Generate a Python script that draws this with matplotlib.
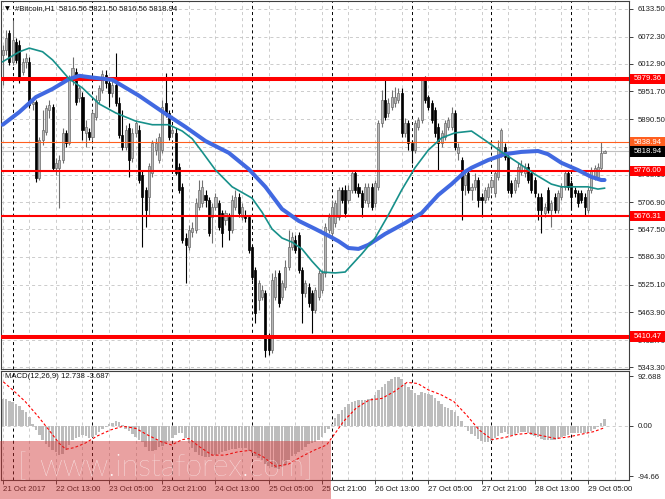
import matplotlib
matplotlib.use("Agg")
import matplotlib.pyplot as plt
from matplotlib.patches import Rectangle

plt.rcParams['lines.scale_dashes'] = False
FONT = ['Liberation Sans', 'DejaVu Sans']
plt.rcParams['font.family'] = FONT
FS = 5.6

# ---------------- data (H1 candles, Bitcoin) ----------------
opens = [6032, 6043, 6081, 6017, 6061, 6054, 5995, 6017, 6017, 5924,
         5928, 5761, 5844, 5862, 5911, 5917, 5783, 5783, 5800, 5860,
         5838, 5977, 5995, 5937, 5939, 5860, 5862, 5851, 5895, 5933,
         5955, 5988, 5970, 5948, 5966, 5926, 5855, 5829, 5871, 5805,
         5860, 5867, 5767, 5734, 5719, 5772, 5822, 5800, 5822, 5926,
         5904, 5860, 5860, 5785, 5741, 5628, 5608, 5641, 5646, 5697,
         5705, 5723, 5712, 5674, 5697, 5705, 5683, 5668, 5674, 5646,
         5697, 5719, 5674, 5679, 5674, 5608, 5558, 5491, 5498, 5507,
         5410, 5381, 5498, 5551, 5498, 5520, 5564, 5608, 5624, 5635,
         5558, 5507, 5520, 5507, 5469, 5498, 5513, 5551, 5646, 5639,
         5661, 5674, 5734, 5734, 5712, 5734, 5772, 5741, 5727, 5712,
         5705, 5741, 5705, 5741, 5882, 5933, 5904, 5917, 5926, 5933,
         5948, 5860, 5882, 5838, 5822, 5873, 5889, 5977, 5939, 5926,
         5911, 5873, 5838, 5851, 5873, 5873, 5904, 5816, 5800, 5745,
         5772, 5734, 5741, 5756, 5719, 5712, 5719, 5741, 5727, 5763,
         5816, 5829, 5807, 5750, 5734, 5750, 5774, 5772, 5785, 5772,
         5756, 5719, 5719, 5683, 5734, 5690, 5719, 5690, 5719, 5741,
         5772, 5750, 5734, 5727, 5727, 5719, 5690, 5734, 5763, 5763,
         5783, 5816.56]
highs = [6054, 6087, 6087, 6109, 6070, 6065, 6025, 6036, 6028, 5937,
         5933, 5851, 5911, 5922, 5933, 5924, 5805, 5811, 5871, 5867,
         5988, 6028, 6003, 5966, 5950, 5889, 5871, 5911, 5944, 5966,
         5999, 5999, 5977, 5977, 6036, 5939, 5911, 5878, 5882, 5871,
         5889, 5878, 5778, 5741, 5794, 5844, 5849, 5860, 5933, 5992,
         5911, 5878, 5871, 5794, 5750, 5639, 5657, 5663, 5716, 5756,
         5756, 5734, 5719, 5705, 5727, 5712, 5690, 5690, 5683, 5723,
         5734, 5727, 5705, 5690, 5679, 5613, 5564, 5535, 5524, 5513,
         5418, 5551, 5558, 5558, 5535, 5580, 5646, 5641, 5635, 5641,
         5564, 5535, 5529, 5513, 5520, 5558, 5558, 5661, 5683, 5712,
         5712, 5741, 5741, 5745, 5745, 5778, 5778, 5750, 5734, 5750,
         5750, 5750, 5756, 5889, 5955, 5977, 5937, 5955, 5961, 5959,
         5959, 5893, 5889, 5844, 5889, 5895, 5983, 5985, 5944, 5933,
         5917, 5882, 5867, 5889, 5895, 5917, 5911, 5838, 5807, 5778,
         5778, 5750, 5772, 5763, 5727, 5741, 5750, 5763, 5778, 5844,
         5871, 5838, 5816, 5756, 5763, 5794, 5800, 5794, 5794, 5778,
         5763, 5727, 5727, 5705, 5741, 5712, 5727, 5734, 5750, 5778,
         5778, 5756, 5741, 5734, 5734, 5727, 5741, 5785, 5789, 5794,
         5838.94, 5821.50]
lows = [5966, 6032, 6010, 6010, 6014, 5970, 5988, 6003, 5915, 5911,
        5752, 5756, 5833, 5855, 5893, 5778, 5767, 5694, 5794, 5829,
        5833, 5966, 5922, 5928, 5844, 5829, 5844, 5844, 5889, 5926,
        5948, 5959, 5917, 5939, 5920, 5849, 5822, 5822, 5763, 5796,
        5851, 5750, 5608, 5653, 5679, 5763, 5811, 5794, 5816, 5895,
        5844, 5851, 5767, 5727, 5617, 5529, 5602, 5630, 5639, 5690,
        5697, 5697, 5633, 5617, 5690, 5646, 5608, 5657, 5624, 5639,
        5690, 5674, 5668, 5663, 5595, 5535, 5441, 5469, 5491, 5366,
        5370, 5374, 5491, 5476, 5491, 5513, 5558, 5602, 5595, 5551,
        5441, 5498, 5476, 5418, 5463, 5491, 5507, 5542, 5639, 5630,
        5653, 5668, 5705, 5674, 5705, 5727, 5727, 5719, 5674, 5705,
        5697, 5690, 5697, 5734, 5873, 5889, 5895, 5911, 5917, 5926,
        5851, 5851, 5822, 5794, 5816, 5867, 5882, 5926, 5911, 5882,
        5851, 5778, 5829, 5844, 5867, 5867, 5822, 5800, 5668, 5723,
        5727, 5712, 5734, 5697, 5674, 5705, 5712, 5727, 5719, 5756,
        5807, 5800, 5727, 5719, 5727, 5741, 5767, 5763, 5750, 5727,
        5719, 5668, 5639, 5674, 5683, 5653, 5683, 5683, 5712, 5734,
        5734, 5690, 5719, 5697, 5705, 5679, 5683, 5727, 5756, 5756,
        5776.00, 5816.56]
closes = [6043, 6070, 6017, 6065, 6021, 5981, 6017, 6025, 5922, 5928,
          5761, 5844, 5867, 5915, 5922, 5783, 5794, 5800, 5860, 5838,
          5977, 6003, 5928, 5959, 5867, 5873, 5851, 5904, 5933, 5959,
          5990, 5970, 5948, 5966, 5926, 5855, 5829, 5867, 5800, 5860,
          5882, 5756, 5719, 5690, 5786, 5838, 5838, 5851, 5917, 5904,
          5851, 5867, 5772, 5734, 5624, 5613, 5646, 5650, 5705, 5734,
          5741, 5712, 5639, 5697, 5719, 5653, 5639, 5683, 5646, 5712,
          5719, 5683, 5697, 5672, 5602, 5542, 5463, 5529, 5513, 5381,
          5381, 5535, 5542, 5485, 5529, 5564, 5608, 5630, 5602, 5558,
          5507, 5529, 5485, 5469, 5513, 5551, 5551, 5653, 5674, 5697,
          5705, 5734, 5712, 5683, 5734, 5772, 5734, 5727, 5697, 5741,
          5741, 5697, 5750, 5882, 5933, 5895, 5926, 5939, 5939, 5948,
          5860, 5882, 5838, 5822, 5882, 5889, 5977, 5933, 5917, 5889,
          5860, 5838, 5860, 5882, 5889, 5904, 5829, 5829, 5734, 5767,
          5734, 5741, 5756, 5712, 5712, 5734, 5741, 5756, 5772, 5829,
          5867, 5807, 5734, 5727, 5756, 5785, 5789, 5785, 5756, 5734,
          5727, 5690, 5690, 5697, 5690, 5705, 5690, 5727, 5741, 5772,
          5741, 5719, 5727, 5705, 5712, 5697, 5734, 5778, 5783, 5785,
          5816.56, 5818.94]

# moving averages (read at sample bars)
ma_fast_bars = [0, 5, 8, 12, 15, 20, 24, 29, 34, 40, 45, 50, 54, 57, 60, 64, 69, 75, 78,
                81, 84, 87, 90, 93, 96, 100, 103, 108, 112, 116, 120, 124, 128, 132, 136,
                141, 145, 150, 155, 160, 165, 168, 172, 176, 179, 181]
ma_fast_vals = [6017, 6039, 6047, 6039, 6021, 5979, 5959, 5924, 5904, 5886, 5878, 5878,
                5864, 5847, 5818, 5778, 5741, 5716, 5685, 5648, 5628, 5619, 5604, 5577,
                5553, 5551, 5553, 5593, 5628, 5679, 5734, 5783, 5822, 5849, 5860, 5864,
                5844, 5818, 5794, 5769, 5747, 5741, 5741, 5741, 5736, 5738]
ma_slow_bars = [0, 5, 10, 15, 20, 23, 26, 33, 41, 49, 55, 61, 68, 74, 79, 84, 89, 94, 98,
                101, 104, 107, 110, 115, 121, 126, 131, 135, 139, 141, 146, 151, 156, 161,
                164, 168, 173, 177, 180, 181]
ma_slow_vals = [5878, 5906, 5939, 5957, 5979, 5986, 5983, 5977, 5942, 5902, 5873, 5842,
                5816, 5780, 5741, 5692, 5666, 5648, 5633, 5621, 5606, 5604, 5613, 5637,
                5661, 5683, 5723, 5747, 5774, 5783, 5800, 5813, 5818, 5820, 5813, 5794,
                5778, 5763, 5756, 5756]

macd_hist = [50, 50, 47, 44, 41, 36, 30, 25, 16, 3,
             -8, -18, -27, -35, -40, -45, -50, -54, -53, -45,
             -36, -27, -23, -21, -18, -20, -23, -22, -17, -12,
             -7, -2, 3, 6, 9, 7, 1, -6, -10, -16,
             -21, -26, -31, -40, -47, -48, -45, -39, -37, -33,
             -28, -23, -18, -13, -14, -23, -33, -41, -49, -54,
             -56, -58, -58, -57, -54, -52, -49, -47, -45, -43,
             -43, -41, -41, -42, -47, -51, -56, -61, -65, -71,
             -75, -77, -79, -80, -78, -73, -64, -56, -52, -49,
             -45, -40, -35, -33, -31, -27, -22, -13, -6, 4,
             14, 22, 29, 35, 40, 44, 47, 49, 49, 49,
             50, 52, 57, 66, 72, 78, 83, 88, 91, 92,
             88, 80, 73, 67, 62, 58, 63, 62, 60, 57,
             51, 47, 40, 35, 33, 29, 25, 18, 9, -2,
             -9, -15, -20, -25, -29, -31, -31, -28, -23, -19,
             -14, -12, -15, -18, -17, -13, -11, -11, -14, -17,
             -20, -22, -24, -26, -27, -27, -26, -24, -22, -19,
             -17, -14, -14, -13, -13, -14, -13, -9, -6, -2,
             5, 12.738]
signal_bars = [0.2, 3.0, 6.8, 10.7, 13.9, 17.0, 19.0, 21.5, 24.7, 28.5, 32.4, 36.2, 40.0,
               43.8, 47.7, 50.8, 54.0, 56.0, 59.1, 63.0, 66.8, 70.6, 74.4, 78.3, 82.1, 85.9,
               89.8, 93.6, 97.4, 100.0, 102.5, 106.3, 110.2, 114.0, 117.8, 121.6, 124.8,
               128.0, 131.8, 135.7, 139.5, 143.3, 147.2, 151.0, 154.8, 158.6, 162.5, 166.3,
               170.1, 174.0, 177.8, 181.0]
signal_vals = [82, 67, 45, 17, -8, -33, -44, -41, -33, -19, -8, -1, -5, -18, -30, -36, -26,
               -24, -39, -55, -55, -49, -46, -58, -76, -72, -58, -46, -36, -14, 8, 33, 48, 51,
               64, 81, 79, 67, 58, 45, 20, -8, -26, -22, -16, -14, -19, -24, -21, -16, -11,
               -3.687]

price_ticks = [6133.50, 6072.30, 6012.90, 5951.70, 5890.50, 5829.30, 5768.10, 5706.90,
               5647.50, 5586.30, 5525.10, 5463.90, 5402.70, 5343.30]
hidden_tick_labels = [5829.30]
levels = [5979.36, 5776.00, 5676.31, 5410.47]
level_widths = [2.9, 1.5, 1.5, 2.9]
orange_level = 5838.94
bid_price = 5818.94
date_bars = [0, 16, 32, 48, 64, 80, 96, 112, 128, 144, 160, 176]
date_labels = ["21 Oct 2017", "22 Oct 13:00", "23 Oct 05:00", "23 Oct 21:00",
               "24 Oct 13:00", "25 Oct 05:00", "25 Oct 21:00", "26 Oct 13:00",
               "27 Oct 05:00", "27 Oct 21:00", "28 Oct 13:00", "29 Oct 05:00"]
day_sep_bars = [3, 27, 51, 75, 99, 123, 147, 171]
macd_ticks = [92.688, 0.0, -94.66]
macd_tick_labels = ["92.688", "0.00", "-94.66"]

# ---------------- figure ----------------
W, H = 665, 499
fig = plt.figure(figsize=(W / 100, H / 100), dpi=100)
fig.patch.set_facecolor('white')
ax = fig.add_axes([1 / W, 1 - 369 / H, 628 / W, 368 / H])
ax2 = fig.add_axes([1 / W, 1 - 480 / H, 628 / W, 109 / H])

n = len(closes)
xs = list(range(n))
XL = (-0.51, 188.36)
for a in (ax, ax2):
    a.set_xlim(*XL)
    a.set_facecolor('white')
    for s in a.spines.values():
        s.set_color('#404040')
        s.set_linewidth(0.8)
ax.set_ylim(5339, 6151)
ax2.set_ylim(-101.5, 102.3)

GRID = '#c4c4c4'
for a in (ax, ax2):
    for b in range(0, 189, 8):
        a.axvline(b, color=GRID, lw=0.6, ls=(0, (2.2, 2.2)), zorder=0.5)
    for b in day_sep_bars:
        a.axvline(b, color='black', lw=0.7, ls=(0, (2.2, 2.2)), zorder=0.6)
for p in price_ticks:
    ax.axhline(p, color=GRID, lw=0.6, ls=(0, (2.2, 2.2)), zorder=0.5)
ax2.axhline(0, color=GRID, lw=0.6, ls=(0, (2.2, 2.2)), zorder=0.5)

# candles
bull = [c >= o for o, c in zip(opens, closes)]
wick_cols = ['#707070' if b else 'black' for b in bull]
ax.vlines(xs, lows, highs, colors=wick_cols, lw=0.8, zorder=2)
bottoms = [min(o, c) for o, c in zip(opens, closes)]
heights = [max(abs(c - o), 1.5) for o, c in zip(opens, closes)]
fcols = ['#b8b8b8' if b else 'black' for b in bull]
ecols = ['#6a6a6a' if b else 'black' for b in bull]
ax.bar(xs, heights, bottom=bottoms, width=0.62, color=fcols, edgecolor=ecols,
       linewidth=0.5, zorder=2.2)

# levels
for lv, lw in zip(levels, level_widths):
    ax.axhline(lv, color='#ff0000', lw=lw, zorder=3)
ax.axhline(orange_level, color='#ff5f1f', lw=0.8, zorder=3)
ax.axhline(bid_price, color='#c0c0c0', lw=0.8, zorder=1.5)

# moving averages
ax.plot(ma_slow_bars, ma_slow_vals, color='#4169e1', lw=2.9, zorder=4,
        solid_capstyle='round')
ax.plot(ma_fast_bars, ma_fast_vals, color='#17908a', lw=1.2, zorder=4.2)

# price axis
ax.yaxis.tick_right()
ax.set_yticks(price_ticks)
ax.set_yticklabels(['' if p in hidden_tick_labels else '%.2f' % p for p in price_ticks])
ax.tick_params(axis='y', length=3, width=0.6, pad=3, labelsize=FS, colors='#202020')
ax.set_xticks([])

ytr = ax.get_yaxis_transform()
box_specs = [(5979.36, '#ff0000', 'white'), (orange_level, '#ff5f1f', 'white'),
             (bid_price, '#000000', 'white'), (5776.00, '#ff0000', 'white'),
             (5676.31, '#ff0000', 'white'), (5410.47, '#ff0000', 'white')]
for p, fc, tc in box_specs:
    ax.add_patch(Rectangle((1.0016, p - 11.5), 0.0575, 23, transform=ytr, clip_on=False,
                           facecolor=fc, edgecolor='none', zorder=6))
    ax.text(1.0075, p, '%.2f' % p, transform=ytr, ha='left', va='center', color=tc,
            fontsize=FS, zorder=7, clip_on=False)

# MACD panel
ax2.bar(xs, macd_hist, width=0.75, color='#bdbdbd', zorder=2)
ax2.plot(signal_bars, signal_vals, color='#ff0000', lw=0.8, ls=(0, (2, 1.5)), zorder=3)
ax2.yaxis.tick_right()
ax2.set_yticks(macd_ticks)
ax2.set_yticklabels(macd_tick_labels)
ax2.tick_params(axis='y', length=3, width=0.6, pad=3, labelsize=FS, colors='#202020')
ax2.set_xticks(date_bars)
ax2.set_xticklabels(date_labels, ha='left')
ax2.tick_params(axis='x', length=3, width=0.6, pad=1.5, labelsize=FS, colors='#202020')

# header texts
fig.text(5 / W, 1 - 9 / H, '\u25bc', fontsize=4.5, family=['DejaVu Sans'], va='center')
fig.text(15 / W, 1 - 9 / H, '#Bitcoin,H1  5816.56 5821.50 5816.56 5818.94',
         fontsize=FS, va='center', color='#101010')
fig.text(5 / W, 1 - 377 / H, 'MACD(12,26,9) 12.738 -3.687', fontsize=FS, va='center',
         color='#101010')

# watermark
fig.add_artist(Rectangle((0, 0), 331 / W, 58 / H, transform=fig.transFigure,
                         facecolor='#d03030', alpha=0.45, edgecolor='none', zorder=10))
fig.text(18 / W, 1 - 468 / H, '[', fontsize=22, color='white', alpha=0.9, va='center',
         family=['Lato', 'DejaVu Sans'], fontweight='light', zorder=11)
fig.text(172 / W, 1 - 467 / H, 'www.instaforex.com', fontsize=22, color='white', alpha=0.9,
         va='center', ha='center', family=['Lato', 'DejaVu Sans'], fontweight='light',
         zorder=11)
fig.text(304 / W, 1 - 468 / H, ']', fontsize=22, color='white', alpha=0.9, va='center',
         family=['Lato', 'DejaVu Sans'], fontweight='light', zorder=11)

fig.savefig('out.png', dpi=100)
